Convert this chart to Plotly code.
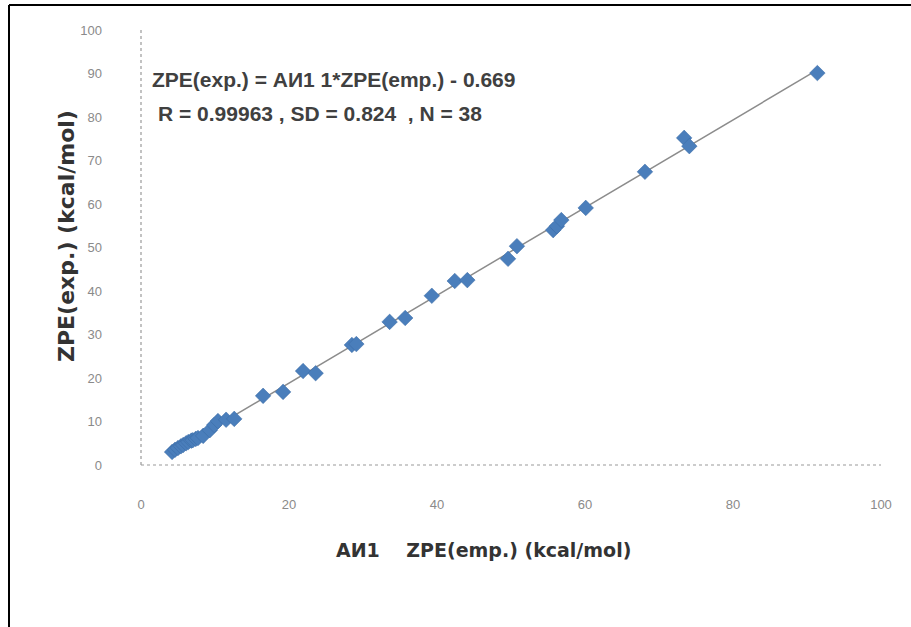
import numpy as np
import plotly.graph_objects as go

zpe_emp = [4.2, 4.6, 5.0, 5.4, 5.7, 6.1, 6.4, 6.8, 7.0, 7.4, 7.7, 8.4, 9.3, 9.9, 10.4,
           11.5, 12.6, 16.5, 19.2, 21.9, 23.6, 28.5, 29.1, 33.6, 35.7, 39.3, 42.4, 44.1,
           49.6, 50.8, 55.7, 56.2, 56.8, 60.1, 68.1, 73.4, 74.1, 91.4]
zpe_exp = [3.0, 3.5, 3.9, 4.3, 4.6, 5.0, 5.3, 5.6, 5.7, 6.0, 6.2, 6.7, 8.0, 9.2, 10.1,
           10.4, 10.6, 15.9, 16.8, 21.6, 21.1, 27.6, 27.8, 32.9, 33.8, 38.9, 42.3, 42.5,
           47.4, 50.3, 54.0, 54.9, 56.3, 59.1, 67.4, 75.2, 73.3, 90.1]
x_ticks = [0, 20, 40, 60, 80, 100]
y_ticks = [0, 10, 20, 30, 40, 50, 60, 70, 80, 90, 100]
eq_text = "ZPE(exp.) = АИ1 1*ZPE(emp.) - 0.669"
stat_text = "R = 0.99963 , SD = 0.824  , N = 38"
x_title = "АИ1    ZPE(emp.) (kcal/mol)"
y_title = "ZPE(exp.) (kcal/mol)"

coef = np.polyfit(zpe_emp, zpe_exp, 1)
lx = [min(zpe_emp), max(zpe_emp)]
ly = [coef[0] * v + coef[1] for v in lx]

fig = go.Figure()
fig.add_trace(go.Scatter(x=lx, y=ly, mode="lines",
                         line=dict(color="#8c8c8c", width=1.5), hoverinfo="skip"))
fig.add_trace(go.Scatter(x=zpe_emp, y=zpe_exp, mode="markers",
                         marker=dict(symbol="diamond", size=12, color="#4A7EBB",
                                     line=dict(color="#3A6AA5", width=0.5))))

W, H = 911, 627
ml, mr, mt, mb = 141, 30, 30, 162
pw, ph = W - ml - mr, H - mt - mb


def px(xp):
    return (xp - ml) / pw


def py(yp):
    return (H - yp - mb) / ph


title_font = dict(size=19, color="#333333", family="DejaVu Sans", weight="bold")
ytitle_font = dict(size=22, color="#333333", family="DejaVu Sans", weight="bold")
ann_font = dict(size=21, color="#404040", family="Liberation Sans, Arial", weight="bold")

fig.update_layout(
    width=W, height=H, showlegend=False,
    paper_bgcolor="white", plot_bgcolor="white",
    margin=dict(l=ml, r=mr, t=mt, b=mb),
    font=dict(family="Liberation Sans, Arial", color="#595959"),
    xaxis=dict(range=[0, 100], tickvals=x_ticks, showgrid=False, zeroline=False,
               showline=False, ticks="", tickfont=dict(size=13, color="#8a8a8a"),
               ticklabelstandoff=30),
    yaxis=dict(range=[0, 100], tickvals=y_ticks, showgrid=False, zeroline=False,
               showline=False, ticks="", tickfont=dict(size=13, color="#8a8a8a"),
               ticklabelstandoff=38),
    shapes=[
        dict(type="line", xref="paper", yref="paper", x0=0, x1=0, y0=0, y1=1,
             line=dict(color="#9a9a9a", width=1.2, dash="dot")),
        dict(type="line", xref="paper", yref="paper", x0=0, x1=1, y0=0, y1=0,
             line=dict(color="#9a9a9a", width=1.2, dash="dot")),
        dict(type="line", xref="paper", yref="paper",
             x0=px(9), x1=px(9), y0=py(5), y1=py(H + 20),
             line=dict(color="black", width=2)),
        dict(type="line", xref="paper", yref="paper",
             x0=px(9), x1=px(W + 5), y0=py(5), y1=py(5),
             line=dict(color="black", width=2)),
    ],
    annotations=[
        dict(text=eq_text, xref="paper", yref="paper",
             x=px(150), y=py(79), xanchor="left", yanchor="middle",
             showarrow=False, font=ann_font),
        dict(text=stat_text, xref="paper", yref="paper",
             x=px(156), y=py(113), xanchor="left", yanchor="middle",
             showarrow=False, font=ann_font),
        dict(text=x_title, xref="paper", yref="paper",
             x=px(483), y=py(550), xanchor="center", yanchor="middle",
             showarrow=False, font=title_font),
        dict(text=y_title, xref="paper", yref="paper", textangle=-90,
             x=px(66), y=py(236), xanchor="center", yanchor="middle",
             showarrow=False, font=ytitle_font),
    ],
)
fig.write_html("out.html", config={"displayModeBar": False},
               post_script="document.body.style.margin='0';document.body.style.padding='0';")
